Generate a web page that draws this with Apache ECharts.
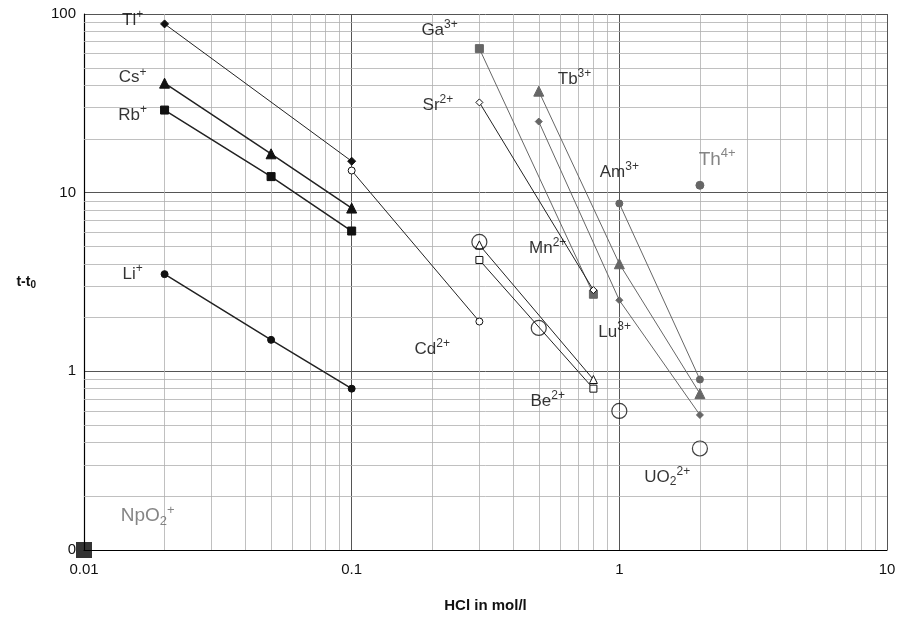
<!DOCTYPE html>
<html><head><meta charset="utf-8">
<script src="https://cdn.jsdelivr.net/npm/echarts@6/dist/echarts.min.js"></script>
<style>html,body{margin:0;background:#fff}#c{width:903px;height:630px}</style>
</head><body><div id="c"></div>
<script>
// [HCl, t-t0] pairs per ion
var tl = [[0.02, 88], [0.1, 15]];
var cs = [[0.02, 41], [0.05, 16.5], [0.1, 8.2]];
var rb = [[0.02, 29], [0.05, 12.3], [0.1, 6.1]];
var li = [[0.02, 3.5], [0.05, 1.5], [0.1, 0.8]];
var cd = [[0.1, 13.3], [0.3, 1.9]];
var ga = [[0.3, 64], [0.8, 2.7]];
var sr = [[0.3, 32], [0.8, 2.85]];
var tb = [[0.5, 37], [1, 4], [2, 0.75]];
var lu = [[0.5, 25], [1, 2.5], [2, 0.57]];
var am = [[1, 8.7], [2, 0.9]];
var th = [[2, 11]];
var mn = [[0.3, 5.1], [0.8, 0.9]];
var be = [[0.3, 4.2], [0.8, 0.8]];
var uo2 = [[0.3, 5.3], [0.5, 1.75], [1, 0.6], [2, 0.37]];
var npo2 = [[0.01, 0.1]];
var xTicks = [0.01, 0.1, 1, 10];
var yTicks = [0.1, 1, 10, 100];
// label anchors [x, y, text]
var labels = [
  [0.0152, 92, '{n|Tl}{s|+}'], [0.0152, 44, '{n|Cs}{s|+}'], [0.0152, 27, '{n|Rb}{s|+}'],
  [0.0152, 3.5, '{n|Li}{s|+}'], [0.213, 81, '{n|Ga}{s|3+}'], [0.21, 31, '{n|Sr}{s|2+}'],
  [0.68, 43, '{n|Tb}{s|3+}'], [1.0, 13, '{n|Am}{s|3+}'], [2.32, 15.3, '{g|Th}{gs|4+}'],
  [0.54, 4.9, '{n|Mn}{s|2+}'], [0.96, 1.65, '{n|Lu}{s|3+}'], [0.2, 1.33, '{n|Cd}{s|2+}'],
  [0.54, 0.68, '{n|Be}{s|2+}'], [1.51, 0.256, '{n|UO}{b|2}{s|2+}'], [0.0173, 0.155, '{g|NpO}{gb|2}{gs|+}']
];

var minorX = [], minorY = [];
[0.01, 0.1, 1].forEach(function (d) { for (var k = 2; k <= 9; k++) minorX.push(+(d * k).toPrecision(3)); });
[0.1, 1, 10].forEach(function (d) { for (var k = 2; k <= 9; k++) minorY.push(+(d * k).toPrecision(3)); });

function ser(data, sym, size, fill, stroke, lw, lineCol) {
  return {
    type: 'line', data: data, symbol: sym, symbolSize: size, showSymbol: true,
    lineStyle: { color: lineCol || '#222', width: lw },
    itemStyle: { color: fill, borderColor: stroke, borderWidth: 1 }, z: 3
  };
}
var G = '#666';
var F = 'Liberation Sans';
var series = [
  {
    type: 'line', data: [], z: 1, silent: true,
    markLine: {
      silent: true, symbol: 'none', label: { show: false }, z: 1,
      lineStyle: { color: '#b0b0b0', width: 0.8, type: 'solid' },
      data: minorX.map(function (v) { return { xAxis: v }; }).concat(minorY.map(function (v) { return { yAxis: v }; }))
    }
  },
  ser(tl, 'diamond', 8, '#111', '#111', 1),
  ser(cs, 'triangle', 10, '#111', '#111', 1.5),
  ser(rb, 'rect', 8, '#111', '#111', 1.5),
  ser(li, 'circle', 7, '#111', '#111', 1.5),
  ser(cd, 'circle', 7, '#fff', '#111', 1),
  ser(ga, 'rect', 8, G, G, 1, G),
  ser(sr, 'diamond', 7, '#fff', '#111', 1),
  ser(tb, 'triangle', 10, G, G, 1, G),
  ser(lu, 'diamond', 7, G, G, 1, G),
  ser(am, 'circle', 7, G, G, 1, G),
  ser(th, 'circle', 8, G, G, 1, G),
  ser(mn, 'triangle', 8, '#fff', '#111', 1),
  ser(be, 'rect', 7, '#fff', '#111', 1),
  { type: 'scatter', data: uo2, symbol: 'circle', symbolSize: 15, itemStyle: { color: 'rgba(0,0,0,0)', borderColor: '#111', borderWidth: 1.2 }, z: 4 },
  { type: 'scatter', data: npo2, symbol: 'rect', symbolSize: 16, itemStyle: { color: '#000' }, z: 5, clip: false },
  {
    type: 'scatter', symbolSize: 0, silent: true, z: 6,
    data: labels.map(function (l) { return { value: [l[0], l[1]], label: { formatter: l[2] } }; }),
    label: {
      show: true, position: 'inside',
      rich: {
        n: { fontFamily: F, fontSize: 17, color: '#000' },
        s: { fontFamily: F, fontSize: 12, color: '#000', padding: [0, 0, 11, 0] },
        b: { fontFamily: F, fontSize: 12, color: '#000', padding: [9, 0, 0, 0] },
        g: { fontFamily: F, fontSize: 19, color: '#666' },
        gs: { fontFamily: F, fontSize: 13, color: '#666', padding: [0, 0, 12, 0] },
        gb: { fontFamily: F, fontSize: 13, color: '#666', padding: [10, 0, 0, 0] }
      }
    }
  }
];

var chart = echarts.init(document.getElementById('c'));
chart.setOption({
  animation: false,
  grid: { left: 84, right: 16, top: 14, bottom: 80 },
  xAxis: {
    type: 'log', min: 0.01, max: 10, logBase: 10,
    name: 'HCl in mol/l', nameLocation: 'middle', nameGap: 48,
    nameTextStyle: { fontFamily: F, fontSize: 15, fontWeight: 'bold', color: '#111' },
    axisLine: { lineStyle: { color: '#000', width: 1.2 } }, axisTick: { show: false },
    axisLabel: { fontFamily: F, fontSize: 15, color: '#111', margin: 12,
      formatter: function (v) { var r = +v.toPrecision(3); return xTicks.indexOf(r) >= 0 ? String(r) : ''; } },
    splitLine: { show: true, lineStyle: { color: '#555', width: 1 } }
  },
  yAxis: {
    type: 'log', min: 0.1, max: 100, logBase: 10,
    name: '{a|t-t}{b|0}', nameLocation: 'middle', nameGap: 48, nameRotate: 0,
    nameTextStyle: { rich: {
      a: { fontFamily: F, fontSize: 14, fontWeight: 'bold', color: '#111' },
      b: { fontFamily: F, fontSize: 10, fontWeight: 'bold', color: '#111', padding: [7, 0, 0, 0] } } },
    axisLine: { show: true, lineStyle: { color: '#000', width: 1.2 } }, axisTick: { show: false },
    axisLabel: { fontFamily: F, fontSize: 15, color: '#111', margin: 8,
      formatter: function (v) { var r = +v.toPrecision(3); return r === 0.1 ? '0' : (yTicks.indexOf(r) >= 0 ? String(r) : ''); } },
    splitLine: { show: true, lineStyle: { color: '#555', width: 1 } }
  },
  series: series
});
</script></body></html>
